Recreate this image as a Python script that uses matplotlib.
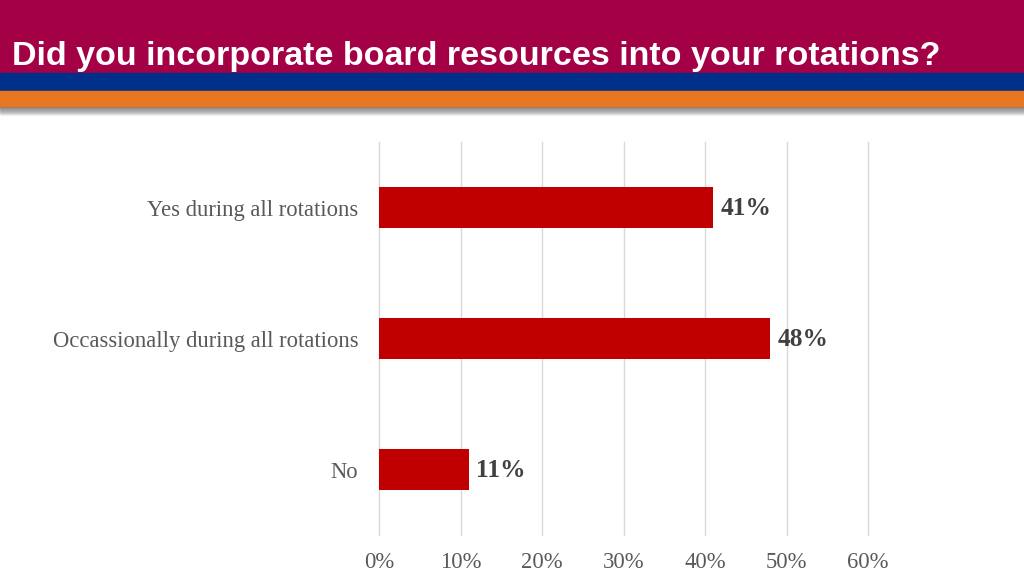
import matplotlib
matplotlib.use('Agg')
import matplotlib.pyplot as plt
from matplotlib.patches import Rectangle
from matplotlib.ticker import FuncFormatter

# survey answers, top to bottom
categories = ['Yes during all rotations', 'Occassionally during all rotations', 'No']
values = [0.41, 0.48, 0.11]
value_labels = ['41%', '48%', '11%']
ticks = [0, 0.1, 0.2, 0.3, 0.4, 0.5, 0.6]

title = 'Did you incorporate board resources into your rotations?'

fig = plt.figure(figsize=(10.24, 5.76), dpi=100)
fig.patch.set_facecolor('white')

# header bands (figure coords, y from top in px / 576)
H = 576.0
def band(y0, y1, color, alpha=1.0):
    fig.patches.append(Rectangle((0, 1 - y1 / H), 1, (y1 - y0) / H,
                                 transform=fig.transFigure, color=color,
                                 alpha=alpha, zorder=0))

band(0, 73, '#A30046')
band(73, 91, '#003087')
band(91, 107, '#E87722')
# soft shadow under the orange band
for i in range(8):
    band(107 + i, 108 + i, '#808080', alpha=0.45 * (1 - i / 8))

fig.text(12 / 1024, 1 - 65 / H, title, color='white', fontsize=24.5,
         fontweight='bold', family=['Liberation Sans Narrow', 'Liberation Sans'],
         ha='left', va='baseline')

ax = fig.add_axes([379 / 1024, 1 - 535 / H, (868 - 379) / 1024, (535 - 142) / H])
pos = list(range(len(categories)))
ax.barh(pos, values, height=0.31, color='#C00000', zorder=3)
ax.set_ylim(2.5, -0.5)
ax.set_xlim(0, 0.6)
ax.set_xticks(ticks)
ax.xaxis.set_major_formatter(FuncFormatter(lambda v, p: f'{v * 100:.0f}%'))
ax.set_yticks(pos)
ax.set_yticklabels(categories)
ax.grid(axis='x', color='#D9D9D9', linewidth=1, zorder=0)
for gl in ax.get_xgridlines():
    gl.set_clip_on(False)
for s in ax.spines.values():
    s.set_visible(False)
ax.tick_params(axis='both', length=0, colors='#595959', labelsize=16.3)
ax.tick_params(axis='x', pad=12)
ax.tick_params(axis='y', pad=15)
for lab in ax.get_xticklabels() + ax.get_yticklabels():
    lab.set_family('Liberation Serif')

for p, v, t in zip(pos, values, value_labels):
    ax.text(v + 0.009, p + 0.01, t, va='center', ha='left', fontsize=18.3,
            fontweight='bold', color='#404040', family='Liberation Serif')

fig.savefig('out.png', dpi=100)
